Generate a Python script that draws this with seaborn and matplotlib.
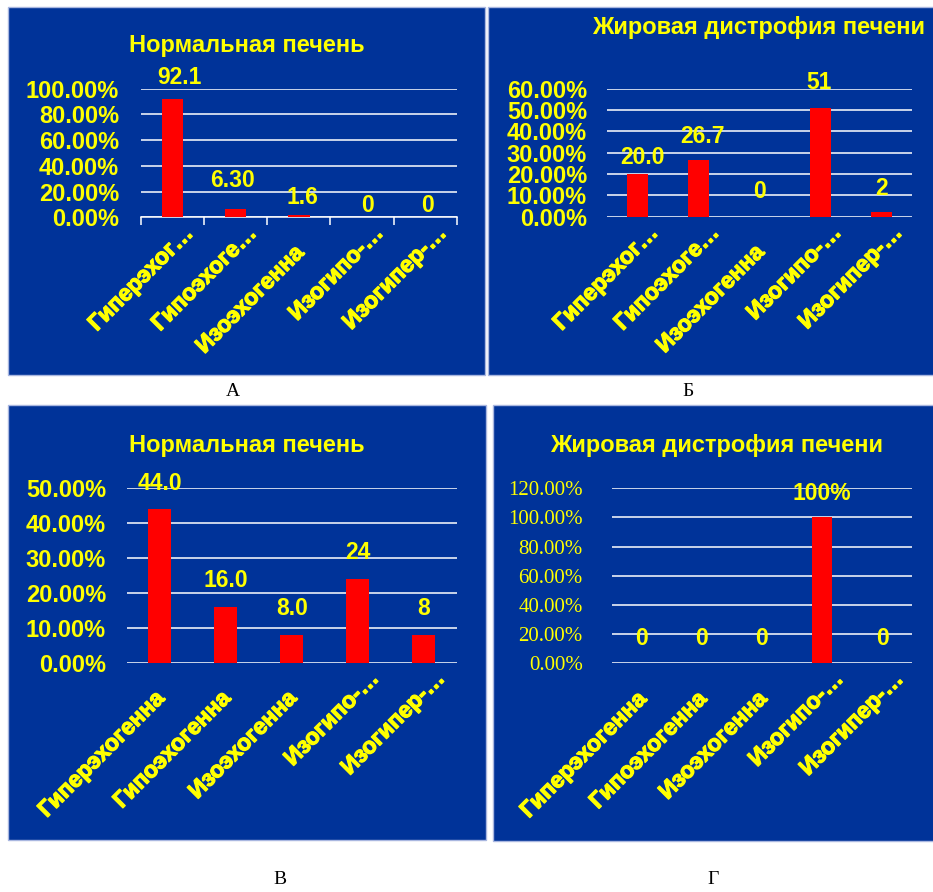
import matplotlib
matplotlib.use("Agg")
import matplotlib.pyplot as plt
import matplotlib.patheffects as pe
import seaborn as sns
from matplotlib.patches import Rectangle

# ---- data -------------------------------------------------------------
cats_short = ["Гиперэхог…", "Гипоэхоге…", "Изоэхогенна", "Изогипо-…", "Изогипер-…"]
cats_full = ["Гиперэхогенна", "Гипоэхогенна", "Изоэхогенна", "Изогипо-…", "Изогипер-…"]

title_normal = "Нормальная печень"
title_fatty = "Жировая дистрофия печени"
panel_letters = ["А", "Б", "В", "Г"]

values_a = [92.1, 6.3, 1.6, 0, 0]
text_a = ["92.1", "6.30", "1.6", "0", "0"]
ticks_a = [0, 20, 40, 60, 80, 100]

values_b = [20.0, 26.7, 0, 51, 2]
text_b = ["20.0", "26.7", "0", "51", "2"]
ticks_b = [0, 10, 20, 30, 40, 50, 60]

values_c = [44.0, 16.0, 8.0, 24, 8]
text_c = ["44.0", "16.0", "8.0", "24", "8"]
ticks_c = [0, 10, 20, 30, 40, 50]

values_d = [0, 0, 0, 100, 0]
text_d = ["0", "0", "0", "100%", "0"]
ticks_d = [0, 20, 40, 60, 80, 100, 120]

# ---- style ------------------------------------------------------------
W, H = 933, 892
BLUE = "#003399"
EDGE = "#a9b7e0"
RED = "#ff0000"
YELLOW = "#ffff00"
SANS = ["Liberation Sans", "DejaVu Sans"]
SERIF = ["Liberation Serif", "DejaVu Serif"]
PT = 0.72  # points per pixel at 100 dpi

plt.rcParams["font.family"] = SANS

fig = plt.figure(figsize=(W / 100, H / 100), dpi=100)
fig.patch.set_facecolor("white")


def axes_rect(x0, y0, x1, y1):
    return [x0 / W, 1 - y1 / H, (x1 - x0) / W, (y1 - y0) / H]


def panel_bg(x0, y0, x1, y1):
    fig.add_artist(Rectangle((x0 / W, 1 - y1 / H), (x1 - x0) / W, (y1 - y0) / H,
                             transform=fig.transFigure, facecolor=BLUE,
                             edgecolor=EDGE, lw=1.0, zorder=0))


panels = [
    dict(bg=(8, 7, 485, 375), ax=(140.7, 88.7, 457, 217.3), vals=values_a, txt=text_a,
         ticks=ticks_a, cats=cats_short, title=title_normal, title_xy=(246.7, 51.7),
         ytick_font=dict(family=SANS, fontsize=17, fontweight="bold"), pad=21.7,
         axis_ticks=True,
         nudge=[(7, 21), (-3, 29), (3.5, 18), (5.5, 12), (2.5, 12)],
         letter_xy=(233, 392)),
    dict(bg=(488, 7, 935, 375), ax=(606.7, 88.7, 911.7, 216.7), vals=values_b, txt=text_b,
         ticks=ticks_b, cats=cats_short, title=title_fatty, title_xy=(759, 34.3),
         ytick_font=dict(family=SANS, fontsize=17, fontweight="bold"), pad=19.7,
         axis_ticks=False,
         nudge=[(5.5, 17), (4.5, 23), (0, 25), (-1.5, 25), (0.5, 24)],
         letter_xy=(688, 392)),
    dict(bg=(8, 405, 486, 840), ax=(126.7, 488.3, 456.7, 662.7), vals=values_c, txt=text_c,
         ticks=ticks_c, cats=cats_full, title=title_normal, title_xy=(246.7, 451.7),
         ytick_font=dict(family=SANS, fontsize=17, fontweight="bold"), pad=20.7,
         axis_ticks=False,
         nudge=[(0, 26)] * 5,
         letter_xy=(280, 880)),
    dict(bg=(493, 405, 935, 841), ax=(611.7, 488.3, 912.3, 663.3), vals=values_d, txt=text_d,
         ticks=ticks_d, cats=cats_full, title=title_fatty, title_xy=(716.5, 451.7),
         ytick_font=dict(family=SERIF, fontsize=15, fontweight="normal"), pad=29,
         axis_ticks=False,
         nudge=[(0, 25), (0, 25), (0, 25), (0, 24), (0, 25)],
         letter_xy=(713, 880)),
]

label_stroke = [pe.withStroke(linewidth=0.9, foreground=YELLOW)]

for p, letter in zip(panels, panel_letters):
    panel_bg(*p["bg"])
    ax = fig.add_axes(axes_rect(*p["ax"]))
    ax.patch.set_alpha(0)

    sns.barplot(x=p["cats"], y=p["vals"], color=RED, saturation=1, width=0.34,
                errorbar=None, ax=ax, zorder=3)
    ax.set_xlim(-0.5, 4.5)
    ax.set_ylim(0, p["ticks"][-1])
    ax.set_xlabel("")
    ax.set_ylabel("")

    # y axis: percent labels, white horizontal grid
    ax.set_yticks(p["ticks"], labels=[f"{t:.2f}%" for t in p["ticks"]],
                  color=YELLOW, **p["ytick_font"])
    ax.tick_params(axis="y", length=0, pad=p["pad"] * PT)
    ax.yaxis.grid(True, color="white", lw=1.1)
    ax.set_axisbelow(True)
    for side in ("top", "right", "left"):
        ax.spines[side].set_visible(False)

    # x axis
    if p["axis_ticks"]:
        ax.spines["bottom"].set_color("white")
        ax.spines["bottom"].set_linewidth(1.1)
        ax.set_xticks([i - 0.5 for i in range(6)], labels=[""] * 6)
        ax.tick_params(axis="x", direction="out", length=8 * PT, width=1.1,
                       color="white")
    else:
        ax.spines["bottom"].set_visible(False)
        ax.set_xticks([])

    # rotated category labels
    for i, c in enumerate(p["cats"]):
        if c.endswith("…"):
            dx, dy = 9, 4.5
        else:
            dx, dy = -7, 24
        ax.annotate(c, xy=(i, 0), xycoords="data",
                    xytext=(dx * PT, -dy * PT), textcoords="offset points",
                    rotation=45, rotation_mode="anchor", ha="right", va="top",
                    fontsize=16.5, fontweight="bold", color=YELLOW,
                    annotation_clip=False, path_effects=label_stroke)

    # value labels
    for i, (v, t) in enumerate(zip(p["vals"], p["txt"])):
        ndx, ndy = p["nudge"][i]
        ax.annotate(t, xy=(i, v), xycoords="data",
                    xytext=(ndx * PT, ndy * PT), textcoords="offset points",
                    ha="center", va="center", fontsize=16.5, fontweight="bold",
                    color=YELLOW, annotation_clip=False, zorder=5)

    # chart title
    tx, ty = p["title_xy"]
    fig.text(tx / W, 1 - ty / H, p["title"], ha="center", va="baseline",
             fontsize=17, fontweight="bold", color=YELLOW)

    # panel letter under each chart
    lx, ly = p["letter_xy"]
    fig.text(lx / W, 1 - ly / H, letter, ha="center", va="center",
             fontsize=14, family=SERIF, color="black")

fig.savefig("out.png", dpi=100, facecolor="white")
